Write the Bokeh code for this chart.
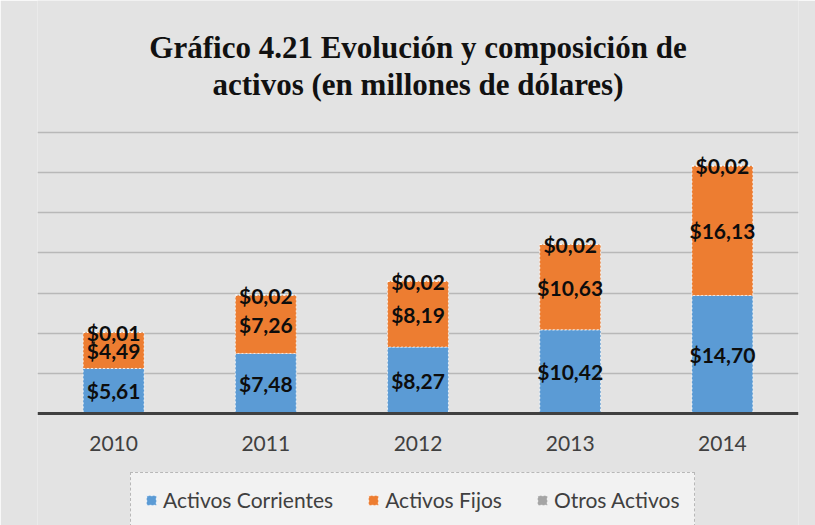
from bokeh.plotting import figure
from bokeh.models import (ColumnDataSource, FactorRange, Legend, LegendItem,
                          FixedTicker, Range1d, Span)
from bokeh.core.properties import value
from bokeh.embed import file_html
from bokeh.resources import INLINE

years = ["2010", "2011", "2012", "2013", "2014"]
corrientes = [5.61, 7.48, 8.27, 10.42, 14.70]
fijos = [4.49, 7.26, 8.19, 10.63, 16.13]
otros = [0.01, 0.02, 0.02, 0.02, 0.02]
series_names = ["Activos Corrientes", "Activos Fijos", "Otros Activos"]
series_keys = ["c", "f", "o"]
colors = ["#5B9BD5", "#ED7D31", "#A5A5A5"]
grid_ticks = [5, 10, 15, 20, 25, 30, 35]
title_lines = ["Gráfico 4.21 Evolución y composición de", "activos (en millones de dólares)"]

BG = "#e3e3e3"
FONT = "Lato"
Y_MAX = 35
PX_PER_UNIT = 281 / Y_MAX            # plot area 281 px tall for 0..35
Y_MIN = -112 / PX_PER_UNIT            # room below the baseline for labels + legend
Y_TOP = Y_MAX + 132 / PX_PER_UNIT     # room above the plot area for the title
LABEL_Y = -30 / PX_PER_UNIT           # category labels 30 px under the baseline
TITLE_Y = [Y_MAX + 85 / PX_PER_UNIT, Y_MAX + 48 / PX_PER_UNIT]
CENTER_X = len(years) / 2             # middle of the category range


def fmt(v):
    return "$" + f"{v:.2f}".replace(".", ",")


src = ColumnDataSource({"year": years, "c": corrientes, "f": fijos, "o": otros})

p = figure(x_range=FactorRange(factors=years), y_range=Range1d(Y_MIN, Y_TOP),
           width=815, height=525, output_backend="svg", toolbar_location=None,
           x_axis_location=None, y_axis_location=None,
           min_border_left=37, min_border_right=17, min_border_top=0, min_border_bottom=0)

p.background_fill_color = BG
p.border_fill_color = BG
p.outline_line_color = None

# grid
p.ygrid.ticker = FixedTicker(ticks=grid_ticks)
p.ygrid.grid_line_color = "#b8b8b8"
p.ygrid.grid_line_width = 1.5
p.xgrid.grid_line_color = None

renderers = p.vbar_stack(series_keys, x="year", width=0.4, source=src,
                         fill_color=colors, line_color="white", line_alpha=0.8,
                         line_dash="2 2", line_width=1)

# baseline (category axis line)
p.add_layout(Span(location=0, dimension="width", line_color="#404040", line_width=3))

# category labels
p.text(x=years, y=[LABEL_Y] * len(years), text=years, text_font=value(FONT),
       text_font_size="21px", text_align="center", text_baseline="middle",
       text_color="#404040")

# data labels
bottom = [0.0] * len(years)
for key, vals in zip(series_keys, [corrientes, fijos, otros]):
    ys = [b + v / 2 for b, v in zip(bottom, vals)]
    lab = ColumnDataSource({"year": years, "y": ys, "t": [fmt(v) for v in vals]})
    p.text(x="year", y="y", text="t", source=lab, text_font=value(FONT),
           text_font_style="bold", text_font_size="21px", text_align="center",
           text_baseline="middle", text_color="#0d0d0d")
    bottom = [b + v for b, v in zip(bottom, vals)]

# two-line centred title
p.text(x=[CENTER_X] * len(title_lines), y=TITLE_Y, text=title_lines,
       text_font=value("Liberation Serif"), text_font_style="bold",
       text_font_size="31px", text_align="center", text_baseline="middle",
       text_color="#111111")

legend = Legend(items=[LegendItem(label=n, renderers=[r]) for n, r in zip(series_names, renderers)],
                orientation="horizontal", location=(93, -2),
                label_text_font=FONT, label_text_font_size="21px", label_text_color="#404040",
                glyph_width=12, glyph_height=12, label_standoff=6, spacing=34,
                padding=14, margin=0,
                border_line_color="#808080", border_line_dash="4 3", border_line_width=1,
                background_fill_color="#f2f2f2", background_fill_alpha=1)
p.add_layout(legend, "center")

open("out.html", "w").write(file_html(p, INLINE))
